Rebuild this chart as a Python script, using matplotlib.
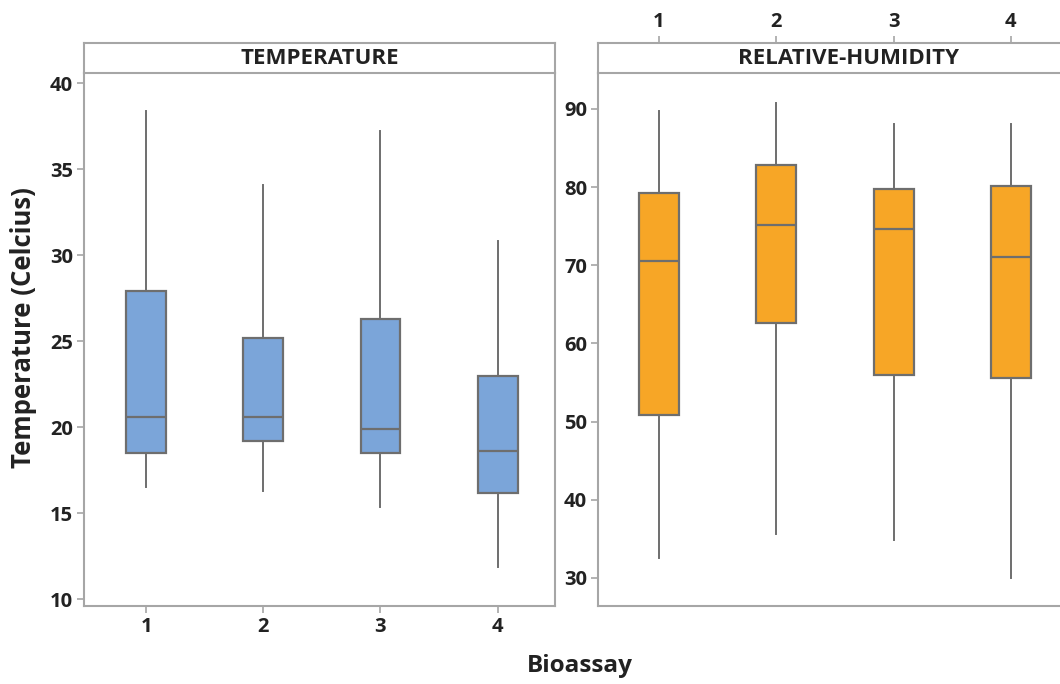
import matplotlib
matplotlib.use('Agg')
import matplotlib.pyplot as plt

# === DATA ===
bioassay = [1, 2, 3, 4]

# Temperature (Celcius): whisker low, Q1, median, Q3, whisker high
temp_low = [16.5, 16.3, 15.35, 11.85]
temp_q1 = [18.5, 19.2, 18.5, 16.15]
temp_med = [20.6, 20.6, 19.9, 18.6]
temp_q3 = [27.9, 25.2, 26.3, 23.0]
temp_high = [38.4, 34.1, 37.2, 30.8]

# Relative humidity
rh_low = [32.5, 35.6, 34.9, 30.0]
rh_q1 = [50.8, 62.6, 55.9, 55.6]
rh_med = [70.5, 75.1, 74.6, 71.0]
rh_q3 = [79.2, 82.8, 79.7, 80.2]
rh_high = [89.7, 90.8, 88.1, 88.1]

temp_ticks = [10, 15, 20, 25, 30, 35, 40]
rh_ticks = [30, 40, 50, 60, 70, 80, 90]

# === STYLE ===
FRAME = '#A6A6A6'
EDGE = '#6E6E6E'
BLUE = '#7BA5D9'
ORANGE = '#F7A626'
TXT = '#222222'
TICK_FS = 14.5
plt.rcParams['font.family'] = ['Open Sans', 'DejaVu Sans']

W, H = 1060, 684


def px_axes(fig, x0, y0, x1, y1):
    # pixel box (top-left origin) -> figure axes
    return fig.add_axes([x0 / W, 1 - y1 / H, (x1 - x0) / W, (y1 - y0) / H])


def make_stats(lo, q1, med, q3, hi):
    return [dict(whislo=a, q1=b, med=c, q3=d, whishi=e, fliers=[])
            for a, b, c, d, e in zip(lo, q1, med, q3, hi)]


def draw_boxes(ax, stats, color):
    ax.bxp(stats, positions=bioassay, widths=0.34, patch_artist=True,
           showcaps=False, showfliers=False,
           boxprops=dict(facecolor=color, edgecolor=EDGE, linewidth=1.6),
           medianprops=dict(color=EDGE, linewidth=1.6),
           whiskerprops=dict(color=EDGE, linewidth=1.4))


def style_frame(ax):
    for s in ax.spines.values():
        s.set_color(FRAME)
        s.set_linewidth(1.5)
    ax.tick_params(colors=FRAME, labelcolor=TXT, length=5, width=1.2,
                   labelsize=TICK_FS, pad=3)


def bold_labels(labels):
    for lab in labels:
        lab.set_fontweight('bold')


def strip(fig, x0, x1, title):
    sax = px_axes(fig, x0, 43, x1, 73)
    style_frame(sax)
    sax.set_yticks([])
    sax.set_xticks([])
    sax.text(0.5, 0.47, title, transform=sax.transAxes, ha='center',
             va='center', fontsize=16, fontweight='bold', color=TXT)
    return sax


fig = plt.figure(figsize=(W / 100, H / 100), dpi=100)

# --- Temperature panel ---
ax1 = px_axes(fig, 84, 73, 555, 606)
draw_boxes(ax1, make_stats(temp_low, temp_q1, temp_med, temp_q3, temp_high), BLUE)
ax1.set_xlim(0.47, 4.49)
ax1.set_ylim(9.6, 40.6)
ax1.set_yticks(temp_ticks)
ax1.set_xticks(bioassay)
ax1.set_xticklabels([str(b) for b in bioassay])
style_frame(ax1)
bold_labels(ax1.get_xticklabels() + ax1.get_yticklabels())
ax1.spines['top'].set_visible(False)
strip(fig, 84, 555, 'TEMPERATURE')

# --- Relative humidity panel (runs off the right edge) ---
ax2 = px_axes(fig, 598, 73, 1100, 606)
draw_boxes(ax2, make_stats(rh_low, rh_q1, rh_med, rh_q3, rh_high), ORANGE)
ax2.set_xlim(0.48, 4.76)
ax2.set_ylim(26.4, 94.6)
ax2.set_yticks(rh_ticks)
ax2.set_xticks([])
style_frame(ax2)
bold_labels(ax2.get_yticklabels())
ax2.spines['top'].set_visible(False)
s2 = strip(fig, 598, 1100, 'RELATIVE-HUMIDITY')
s2.set_xlim(0.48, 4.76)
s2.xaxis.tick_top()
s2.set_xticks(bioassay)
s2.set_xticklabels([str(b) for b in bioassay])
s2.tick_params(axis='x', colors=FRAME, labelcolor=TXT, length=5,
               width=1.2, labelsize=TICK_FS)
bold_labels(s2.get_xticklabels())

# --- Axis titles ---
fig.text(24 / W, 1 - 328 / H, 'Temperature (Celcius)', rotation=90,
         ha='center', va='center', fontsize=18.5, fontweight='bold',
         color=TXT)
fig.text(580 / W, 1 - 666 / H, 'Bioassay', ha='center', va='center',
         fontsize=17.5, fontweight='bold', color=TXT)

fig.savefig('out.png', dpi=100)
